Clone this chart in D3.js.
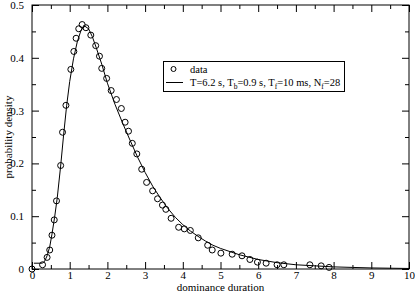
<!DOCTYPE html>
<meta charset="utf-8">
<style>
body { margin: 0; background: #fff; }
svg { display: block; font-family: "Liberation Serif", "Times New Roman", serif; }
.frame { fill: none; stroke: #000; stroke-width: 1px; }
.axis path { display: none; }
.axis line { stroke: #000; }
.axis text { font-size: 11px; fill: #000; font-family: "Liberation Serif", serif; }
.dot { fill: none; stroke: #000; stroke-width: 1px; }
.fit { fill: none; stroke: #000; stroke-width: 1px; }
</style>
<svg width="415" height="293"></svg>
<script src="https://cdn.jsdelivr.net/npm/d3@7"></script>
<script>

// measured histogram (dominance duration, probability density)
var dataX = [0, 0.28, 0.40, 0.47, 0.53, 0.59, 0.65, 0.76, 0.81, 0.90, 1.03, 1.11, 1.17, 1.24, 1.33, 1.43,
             1.56, 1.69, 1.79, 1.85, 1.98, 2.10, 2.24, 2.37, 2.47, 2.56, 2.66, 2.78, 2.91, 3.04, 3.20,
             3.33, 3.46, 3.55, 3.69, 3.89, 4.04, 4.20, 4.41, 4.66, 4.78, 5.01, 5.31, 5.57, 5.78, 5.98,
             6.21, 6.50, 6.68, 7.37, 7.67, 7.88];
var dataY = [0, 0.008, 0.022, 0.036, 0.064, 0.093, 0.129, 0.196, 0.259, 0.310, 0.378, 0.412, 0.437, 0.455, 0.463, 0.457,
             0.443, 0.423, 0.403, 0.380, 0.361, 0.338, 0.321, 0.304, 0.278, 0.261, 0.238, 0.218, 0.189, 0.164, 0.148,
             0.133, 0.121, 0.113, 0.096, 0.079, 0.076, 0.073, 0.059, 0.045, 0.036, 0.030, 0.028, 0.025, 0.018, 0.013,
             0.011, 0.008, 0.008, 0.008, 0.006, 0.003];

// model curve
var fitX = [0.05, 0.27, 0.33, 0.40, 0.47, 0.53, 0.60, 0.67, 0.76, 0.84, 0.92, 1.0, 1.1, 1.2, 1.3, 1.4, 1.5,
            1.6, 1.7, 1.85, 2.0, 2.2, 2.4, 2.6, 2.8, 3.0, 3.2, 3.4, 3.6, 3.8, 4.0, 4.2, 4.4, 4.6, 4.8,
            5.0, 5.5, 6.0, 6.5, 7.0, 7.5, 8.0, 8.5, 9.0, 9.5, 10];
var fitY = [0.011, 0.011, 0.014, 0.025, 0.042, 0.066, 0.098, 0.135, 0.195, 0.255, 0.310, 0.355, 0.398, 0.430, 0.452, 0.460, 0.455,
            0.440, 0.420, 0.388, 0.352, 0.312, 0.277, 0.244, 0.212, 0.183, 0.157, 0.135, 0.115, 0.098, 0.084, 0.072, 0.062, 0.053, 0.045,
            0.039, 0.027, 0.018, 0.012, 0.008, 0.006, 0.004, 0.003, 0.002, 0.0015, 0.001];

var xTicks = [0, 1, 2, 3, 4, 5, 6, 7, 8, 9, 10];
var yTicks = [0, 0.1, 0.2, 0.3, 0.4, 0.5];

var svg = d3.select("svg");
var mLeft = 32, mRight = 409, mTop = 5, mBottom = 269;

var x = d3.scaleLinear().domain([0, 10]).range([mLeft, mRight]);
var y = d3.scaleLinear().domain([0, 0.5]).range([mBottom, mTop]);

var xMinor = d3.range(0.5, 10, 1);
var yMinor = d3.range(0.05, 0.5, 0.1);

// bottom / left axes with labels, inward ticks
svg.append("g").attr("class", "axis").attr("transform", "translate(0," + mBottom + ")")
    .call(d3.axisBottom(x).tickValues(xTicks).tickFormat(d3.format("d")).tickSize(-7).tickPadding(2));
svg.append("g").attr("class", "axis").attr("transform", "translate(0," + mBottom + ")")
    .call(d3.axisBottom(x).tickValues(xMinor).tickFormat("").tickSize(-4));
svg.append("g").attr("class", "axis").attr("transform", "translate(" + mLeft + ",0)")
    .call(d3.axisLeft(y).tickValues(yTicks).tickFormat(function(d) { return d === 0 ? "0" : d3.format(".1f")(d); }).tickSize(-7).tickPadding(8));
svg.append("g").attr("class", "axis").attr("transform", "translate(" + mLeft + ",0)")
    .call(d3.axisLeft(y).tickValues(yMinor).tickFormat("").tickSize(-4));

// top / right axes, ticks only
svg.append("g").attr("class", "axis").attr("transform", "translate(0," + mTop + ")")
    .call(d3.axisTop(x).tickValues(xTicks).tickFormat("").tickSize(-7));
svg.append("g").attr("class", "axis").attr("transform", "translate(0," + mTop + ")")
    .call(d3.axisTop(x).tickValues(xMinor).tickFormat("").tickSize(-4));
svg.append("g").attr("class", "axis").attr("transform", "translate(" + mRight + ",0)")
    .call(d3.axisRight(y).tickValues(yTicks).tickFormat("").tickSize(-7));
svg.append("g").attr("class", "axis").attr("transform", "translate(" + mRight + ",0)")
    .call(d3.axisRight(y).tickValues(yMinor).tickFormat("").tickSize(-4));

svg.append("rect").attr("class", "frame")
    .attr("x", mLeft).attr("y", mTop)
    .attr("width", mRight - mLeft).attr("height", mBottom - mTop);

// fit curve
var line = d3.line()
    .x(function(d, i) { return x(fitX[i]); })
    .y(function(d, i) { return y(fitY[i]); });
svg.append("path").attr("class", "fit").attr("d", line(fitX));

// data circles
svg.selectAll("circle.dot")
    .data(dataX)
  .enter().append("circle")
    .attr("class", "dot")
    .attr("cx", function(d) { return x(d); })
    .attr("cy", function(d, i) { return y(dataY[i]); })
    .attr("r", 3);

// axis titles
svg.append("text")
    .attr("x", (mLeft + mRight) / 2).attr("y", 291)
    .attr("text-anchor", "middle").style("font-size", "11px")
    .text("dominance duration");
svg.append("text")
    .attr("transform", "translate(12," + ((mTop + mBottom) / 2) + ") rotate(-90)")
    .attr("text-anchor", "middle").style("font-size", "11px")
    .text("probability density");

// legend
var lg = svg.append("g");
lg.append("rect").attr("class", "frame")
    .attr("x", 163.5).attr("y", 61.5).attr("width", 181).attr("height", 30)
    .style("fill", "#fff");
lg.append("circle").attr("class", "dot").attr("cx", 173.5).attr("cy", 69).attr("r", 2.5);
lg.append("text").attr("x", 190).attr("y", 73).style("font-size", "10.5px").text("data");
lg.append("line").attr("x1", 166).attr("x2", 183).attr("y1", 82.5).attr("y2", 82.5)
    .attr("stroke", "#000");
var t = lg.append("text").attr("x", 190).attr("y", 86).style("font-size", "10.5px");
t.append("tspan").text("T=6.2 s, T");
t.append("tspan").attr("dy", 3).style("font-size", "7.5px").text("b");
t.append("tspan").attr("dy", -3).text("=0.9 s, T");
t.append("tspan").attr("dy", 3).style("font-size", "7.5px").text("f");
t.append("tspan").attr("dy", -3).text("=10 ms, N");
t.append("tspan").attr("dy", 3).style("font-size", "7.5px").text("f");
t.append("tspan").attr("dy", -3).text("=28");

</script>
